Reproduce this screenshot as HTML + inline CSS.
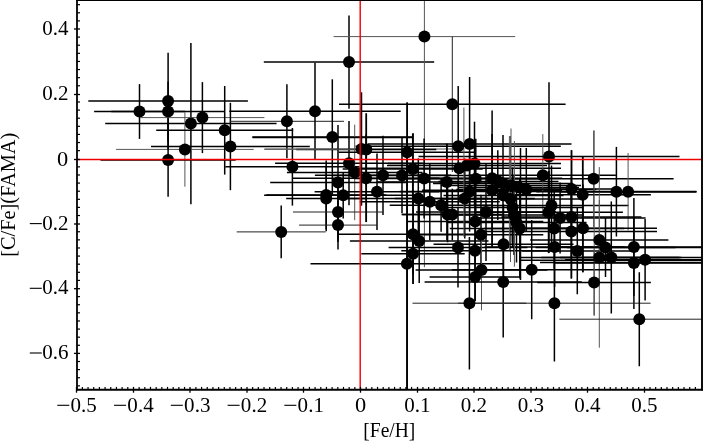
<!DOCTYPE html><html><head><meta charset="utf-8"><style>html,body{margin:0;padding:0;background:#fff;}svg{display:block;will-change:transform;}text{font-family:"Liberation Serif",serif;}</style></head><body>
<svg width="703" height="442" viewBox="0 0 703 442">
<rect width="703" height="442" fill="#fff"/>
<defs><clipPath id="ax"><rect x="77" y="0" width="625" height="389.5"/></clipPath></defs>
<g clip-path="url(#ax)">
<line x1="94.1" y1="111.5" x2="184.9" y2="111.5" stroke="#000" stroke-width="1.5"/>
<line x1="139.5" y1="84.1" x2="139.5" y2="138.9" stroke="#000" stroke-width="1.5"/>
<line x1="88.3" y1="100.9" x2="247.9" y2="100.9" stroke="#000" stroke-width="1.5"/>
<line x1="168.1" y1="52.8" x2="168.1" y2="149.0" stroke="#000" stroke-width="1.5"/>
<line x1="111.3" y1="111.5" x2="224.9" y2="111.5" stroke="#000" stroke-width="1.5"/>
<line x1="168.1" y1="81.5" x2="168.1" y2="141.5" stroke="#000" stroke-width="1.5"/>
<line x1="105.2" y1="123.6" x2="276.6" y2="123.6" stroke="#000" stroke-width="1.5"/>
<line x1="190.9" y1="43.0" x2="190.9" y2="204.2" stroke="#000" stroke-width="1.5"/>
<line x1="140.4" y1="117.6" x2="264.4" y2="117.6" stroke="#555" stroke-width="1.0"/>
<line x1="202.4" y1="82.1" x2="202.4" y2="153.1" stroke="#000" stroke-width="1.5"/>
<line x1="116.1" y1="149.4" x2="253.7" y2="149.4" stroke="#555" stroke-width="1.0"/>
<line x1="184.9" y1="112.1" x2="184.9" y2="186.7" stroke="#555" stroke-width="1.0"/>
<line x1="100.5" y1="159.9" x2="235.7" y2="159.9" stroke="#000" stroke-width="1.5"/>
<line x1="168.1" y1="123.1" x2="168.1" y2="196.7" stroke="#000" stroke-width="1.5"/>
<line x1="156.2" y1="130.3" x2="293.2" y2="130.3" stroke="#000" stroke-width="1.5"/>
<line x1="224.7" y1="86.0" x2="224.7" y2="174.6" stroke="#000" stroke-width="1.5"/>
<line x1="151.0" y1="146.5" x2="309.8" y2="146.5" stroke="#000" stroke-width="1.5"/>
<line x1="230.4" y1="102.8" x2="230.4" y2="190.2" stroke="#000" stroke-width="1.5"/>
<line x1="229.8" y1="121.3" x2="344.0" y2="121.3" stroke="#222" stroke-width="1.0"/>
<line x1="286.9" y1="84.3" x2="286.9" y2="158.3" stroke="#000" stroke-width="1.5"/>
<line x1="229.3" y1="111.2" x2="400.7" y2="111.2" stroke="#000" stroke-width="1.5"/>
<line x1="315.0" y1="62.8" x2="315.0" y2="159.6" stroke="#000" stroke-width="1.5"/>
<line x1="263.8" y1="62.1" x2="434.2" y2="62.1" stroke="#000" stroke-width="1.5"/>
<line x1="349.0" y1="15.4" x2="349.0" y2="108.8" stroke="#000" stroke-width="1.5"/>
<line x1="333.6" y1="36.6" x2="515.2" y2="36.6" stroke="#555" stroke-width="1.0"/>
<line x1="424.4" y1="-194.0" x2="424.4" y2="267.2" stroke="#555" stroke-width="1.0"/>
<line x1="225.3" y1="166.8" x2="359.5" y2="166.8" stroke="#000" stroke-width="1.5"/>
<line x1="292.4" y1="128.0" x2="292.4" y2="205.6" stroke="#000" stroke-width="1.5"/>
<line x1="236.7" y1="231.9" x2="325.7" y2="231.9" stroke="#222" stroke-width="1.0"/>
<line x1="281.2" y1="205.6" x2="281.2" y2="258.2" stroke="#000" stroke-width="1.5"/>
<line x1="252.3" y1="137.0" x2="412.3" y2="137.0" stroke="#000" stroke-width="1.5"/>
<line x1="332.3" y1="79.3" x2="332.3" y2="194.7" stroke="#000" stroke-width="1.5"/>
<line x1="339.0" y1="104.3" x2="565.6" y2="104.3" stroke="#000" stroke-width="1.5"/>
<line x1="452.3" y1="36.6" x2="452.3" y2="172.0" stroke="#222" stroke-width="1.0"/>
<line x1="264.5" y1="149.0" x2="458.5" y2="149.0" stroke="#555" stroke-width="1.0"/>
<line x1="361.5" y1="92.3" x2="361.5" y2="205.7" stroke="#000" stroke-width="1.5"/>
<line x1="296.3" y1="149.5" x2="436.3" y2="149.5" stroke="#000" stroke-width="1.5"/>
<line x1="366.3" y1="113.5" x2="366.3" y2="185.5" stroke="#000" stroke-width="1.5"/>
<line x1="275.1" y1="163.2" x2="422.9" y2="163.2" stroke="#000" stroke-width="1.5"/>
<line x1="349.0" y1="121.1" x2="349.0" y2="205.3" stroke="#000" stroke-width="1.5"/>
<line x1="286.9" y1="172.4" x2="422.5" y2="172.4" stroke="#000" stroke-width="1.5"/>
<line x1="354.7" y1="124.6" x2="354.7" y2="220.2" stroke="#555" stroke-width="1.0"/>
<line x1="292.8" y1="178.3" x2="439.4" y2="178.3" stroke="#000" stroke-width="1.5"/>
<line x1="366.1" y1="134.5" x2="366.1" y2="222.1" stroke="#000" stroke-width="1.5"/>
<line x1="314.9" y1="175.3" x2="451.1" y2="175.3" stroke="#000" stroke-width="1.5"/>
<line x1="383.0" y1="135.7" x2="383.0" y2="214.9" stroke="#000" stroke-width="1.5"/>
<line x1="332.0" y1="175.4" x2="472.0" y2="175.4" stroke="#000" stroke-width="1.5"/>
<line x1="402.0" y1="137.5" x2="402.0" y2="213.3" stroke="#000" stroke-width="1.5"/>
<line x1="338.7" y1="152.2" x2="475.5" y2="152.2" stroke="#000" stroke-width="1.5"/>
<line x1="407.1" y1="102.4" x2="407.1" y2="202.0" stroke="#000" stroke-width="1.5"/>
<line x1="342.7" y1="169.0" x2="482.7" y2="169.0" stroke="#000" stroke-width="1.5"/>
<line x1="412.7" y1="133.5" x2="412.7" y2="204.5" stroke="#000" stroke-width="1.5"/>
<line x1="354.1" y1="178.4" x2="494.1" y2="178.4" stroke="#000" stroke-width="1.5"/>
<line x1="424.1" y1="138.4" x2="424.1" y2="218.4" stroke="#000" stroke-width="1.5"/>
<line x1="376.8" y1="182.1" x2="516.8" y2="182.1" stroke="#000" stroke-width="1.5"/>
<line x1="446.8" y1="143.8" x2="446.8" y2="220.4" stroke="#000" stroke-width="1.5"/>
<line x1="270.2" y1="182.5" x2="405.8" y2="182.5" stroke="#000" stroke-width="1.5"/>
<line x1="338.0" y1="125.1" x2="338.0" y2="239.9" stroke="#000" stroke-width="1.5"/>
<line x1="266.2" y1="194.9" x2="386.2" y2="194.9" stroke="#000" stroke-width="1.5"/>
<line x1="326.2" y1="160.4" x2="326.2" y2="229.4" stroke="#000" stroke-width="1.5"/>
<line x1="286.2" y1="198.5" x2="366.2" y2="198.5" stroke="#000" stroke-width="1.5"/>
<line x1="326.2" y1="165.8" x2="326.2" y2="231.2" stroke="#000" stroke-width="1.5"/>
<line x1="264.1" y1="195.3" x2="422.3" y2="195.3" stroke="#000" stroke-width="1.5"/>
<line x1="343.2" y1="172.1" x2="343.2" y2="218.5" stroke="#000" stroke-width="1.5"/>
<line x1="314.6" y1="191.8" x2="439.4" y2="191.8" stroke="#000" stroke-width="1.5"/>
<line x1="377.0" y1="153.6" x2="377.0" y2="230.0" stroke="#000" stroke-width="1.5"/>
<line x1="293.0" y1="212.0" x2="383.0" y2="212.0" stroke="#222" stroke-width="1.0"/>
<line x1="338.0" y1="182.0" x2="338.0" y2="242.0" stroke="#000" stroke-width="1.5"/>
<line x1="299.1" y1="225.1" x2="376.9" y2="225.1" stroke="#222" stroke-width="1.0"/>
<line x1="338.0" y1="200.8" x2="338.0" y2="249.4" stroke="#000" stroke-width="1.5"/>
<line x1="348.3" y1="198.4" x2="488.3" y2="198.4" stroke="#000" stroke-width="1.5"/>
<line x1="418.3" y1="158.4" x2="418.3" y2="238.4" stroke="#000" stroke-width="1.5"/>
<line x1="359.8" y1="201.7" x2="499.8" y2="201.7" stroke="#000" stroke-width="1.5"/>
<line x1="429.8" y1="163.1" x2="429.8" y2="240.3" stroke="#000" stroke-width="1.5"/>
<line x1="389.7" y1="205.2" x2="492.5" y2="205.2" stroke="#000" stroke-width="1.5"/>
<line x1="441.1" y1="178.6" x2="441.1" y2="231.8" stroke="#000" stroke-width="1.5"/>
<line x1="401.6" y1="214.5" x2="493.6" y2="214.5" stroke="#000" stroke-width="1.5"/>
<line x1="447.6" y1="186.7" x2="447.6" y2="242.3" stroke="#000" stroke-width="1.5"/>
<line x1="402.3" y1="214.5" x2="502.3" y2="214.5" stroke="#000" stroke-width="1.5"/>
<line x1="452.3" y1="188.7" x2="452.3" y2="240.3" stroke="#000" stroke-width="1.5"/>
<line x1="355.6" y1="146.2" x2="560.8" y2="146.2" stroke="#000" stroke-width="1.5"/>
<line x1="458.2" y1="86.1" x2="458.2" y2="206.3" stroke="#000" stroke-width="1.5"/>
<line x1="367.7" y1="144.1" x2="571.5" y2="144.1" stroke="#000" stroke-width="1.5"/>
<line x1="469.6" y1="77.0" x2="469.6" y2="211.2" stroke="#000" stroke-width="1.5"/>
<line x1="357.6" y1="168.3" x2="561.0" y2="168.3" stroke="#000" stroke-width="1.5"/>
<line x1="387.0" y1="165.5" x2="547.0" y2="165.5" stroke="#000" stroke-width="1.5"/>
<line x1="388.0" y1="163.5" x2="561.0" y2="163.5" stroke="#000" stroke-width="1.5"/>
<line x1="474.5" y1="121.7" x2="474.5" y2="205.3" stroke="#000" stroke-width="1.5"/>
<line x1="405.8" y1="178.8" x2="545.8" y2="178.8" stroke="#000" stroke-width="1.5"/>
<line x1="475.8" y1="138.8" x2="475.8" y2="218.8" stroke="#000" stroke-width="1.5"/>
<line x1="422.1" y1="178.2" x2="562.1" y2="178.2" stroke="#000" stroke-width="1.5"/>
<line x1="492.1" y1="110.4" x2="492.1" y2="246.0" stroke="#000" stroke-width="1.5"/>
<line x1="422.1" y1="190.3" x2="562.1" y2="190.3" stroke="#000" stroke-width="1.5"/>
<line x1="492.1" y1="133.9" x2="492.1" y2="246.7" stroke="#000" stroke-width="1.5"/>
<line x1="433.0" y1="183.5" x2="573.0" y2="183.5" stroke="#000" stroke-width="1.5"/>
<line x1="503.0" y1="135.1" x2="503.0" y2="231.9" stroke="#000" stroke-width="1.5"/>
<line x1="438.5" y1="181.5" x2="558.5" y2="181.5" stroke="#000" stroke-width="1.5"/>
<line x1="441.0" y1="185.5" x2="581.0" y2="185.5" stroke="#000" stroke-width="1.5"/>
<line x1="511.0" y1="128.5" x2="511.0" y2="242.5" stroke="#555" stroke-width="1.0"/>
<line x1="459.0" y1="187.5" x2="579.0" y2="187.5" stroke="#000" stroke-width="1.5"/>
<line x1="456.3" y1="189.5" x2="596.3" y2="189.5" stroke="#000" stroke-width="1.5"/>
<line x1="526.3" y1="148.0" x2="526.3" y2="231.0" stroke="#000" stroke-width="1.5"/>
<line x1="469.7" y1="175.3" x2="615.9" y2="175.3" stroke="#000" stroke-width="1.5"/>
<line x1="542.8" y1="134.1" x2="542.8" y2="216.5" stroke="#555" stroke-width="1.0"/>
<line x1="418.5" y1="156.5" x2="679.5" y2="156.5" stroke="#000" stroke-width="1.5"/>
<line x1="549.0" y1="82.3" x2="549.0" y2="230.7" stroke="#000" stroke-width="1.5"/>
<line x1="440.5" y1="199.0" x2="580.5" y2="199.0" stroke="#000" stroke-width="1.5"/>
<line x1="510.5" y1="136.0" x2="510.5" y2="262.0" stroke="#555" stroke-width="1.0"/>
<line x1="443.5" y1="195.5" x2="563.5" y2="195.5" stroke="#000" stroke-width="1.5"/>
<line x1="442.5" y1="207.5" x2="582.5" y2="207.5" stroke="#000" stroke-width="1.5"/>
<line x1="512.5" y1="167.5" x2="512.5" y2="247.5" stroke="#000" stroke-width="1.5"/>
<line x1="444.0" y1="215.0" x2="584.0" y2="215.0" stroke="#000" stroke-width="1.5"/>
<line x1="514.0" y1="175.0" x2="514.0" y2="255.0" stroke="#000" stroke-width="1.5"/>
<line x1="416.0" y1="211.9" x2="556.0" y2="211.9" stroke="#000" stroke-width="1.5"/>
<line x1="486.0" y1="162.9" x2="486.0" y2="260.9" stroke="#000" stroke-width="1.5"/>
<line x1="394.8" y1="198.4" x2="534.8" y2="198.4" stroke="#000" stroke-width="1.5"/>
<line x1="464.8" y1="158.4" x2="464.8" y2="238.4" stroke="#000" stroke-width="1.5"/>
<line x1="399.6" y1="191.6" x2="539.6" y2="191.6" stroke="#000" stroke-width="1.5"/>
<line x1="469.6" y1="151.6" x2="469.6" y2="231.6" stroke="#000" stroke-width="1.5"/>
<line x1="407.1" y1="221.5" x2="543.3" y2="221.5" stroke="#000" stroke-width="1.5"/>
<line x1="475.2" y1="181.5" x2="475.2" y2="261.5" stroke="#000" stroke-width="1.5"/>
<line x1="446.5" y1="222.5" x2="586.5" y2="222.5" stroke="#000" stroke-width="1.5"/>
<line x1="516.5" y1="182.5" x2="516.5" y2="262.5" stroke="#000" stroke-width="1.5"/>
<line x1="449.8" y1="228.5" x2="589.8" y2="228.5" stroke="#000" stroke-width="1.5"/>
<line x1="519.8" y1="178.5" x2="519.8" y2="278.5" stroke="#000" stroke-width="1.5"/>
<line x1="474.5" y1="205.5" x2="628.5" y2="205.5" stroke="#000" stroke-width="1.5"/>
<line x1="551.5" y1="165.5" x2="551.5" y2="245.5" stroke="#000" stroke-width="1.5"/>
<line x1="474.1" y1="212.2" x2="622.9" y2="212.2" stroke="#000" stroke-width="1.5"/>
<line x1="548.5" y1="171.3" x2="548.5" y2="253.1" stroke="#000" stroke-width="1.5"/>
<line x1="513.6" y1="178.8" x2="673.6" y2="178.8" stroke="#000" stroke-width="1.5"/>
<line x1="593.6" y1="130.5" x2="593.6" y2="227.1" stroke="#555" stroke-width="1.0"/>
<line x1="528.0" y1="189.1" x2="615.0" y2="189.1" stroke="#000" stroke-width="1.5"/>
<line x1="571.5" y1="150.2" x2="571.5" y2="228.0" stroke="#000" stroke-width="1.5"/>
<line x1="514.5" y1="194.8" x2="650.9" y2="194.8" stroke="#000" stroke-width="1.5"/>
<line x1="582.7" y1="156.2" x2="582.7" y2="233.4" stroke="#000" stroke-width="1.5"/>
<line x1="536.4" y1="191.7" x2="696.4" y2="191.7" stroke="#000" stroke-width="1.5"/>
<line x1="616.4" y1="146.9" x2="616.4" y2="236.5" stroke="#000" stroke-width="1.5"/>
<line x1="559.8" y1="191.7" x2="696.4" y2="191.7" stroke="#000" stroke-width="1.5"/>
<line x1="628.1" y1="153.0" x2="628.1" y2="230.4" stroke="#555" stroke-width="1.0"/>
<line x1="474.6" y1="218.0" x2="645.6" y2="218.0" stroke="#000" stroke-width="1.5"/>
<line x1="560.1" y1="182.6" x2="560.1" y2="253.4" stroke="#000" stroke-width="1.5"/>
<line x1="501.4" y1="216.9" x2="641.4" y2="216.9" stroke="#000" stroke-width="1.5"/>
<line x1="571.4" y1="176.9" x2="571.4" y2="256.9" stroke="#000" stroke-width="1.5"/>
<line x1="484.2" y1="228.5" x2="624.2" y2="228.5" stroke="#000" stroke-width="1.5"/>
<line x1="554.2" y1="188.5" x2="554.2" y2="268.5" stroke="#000" stroke-width="1.5"/>
<line x1="485.6" y1="231.5" x2="657.0" y2="231.5" stroke="#000" stroke-width="1.5"/>
<line x1="571.3" y1="184.6" x2="571.3" y2="278.4" stroke="#000" stroke-width="1.5"/>
<line x1="509.0" y1="228.3" x2="657.0" y2="228.3" stroke="#000" stroke-width="1.5"/>
<line x1="583.0" y1="184.4" x2="583.0" y2="272.2" stroke="#000" stroke-width="1.5"/>
<line x1="530.2" y1="240.0" x2="668.4" y2="240.0" stroke="#000" stroke-width="1.5"/>
<line x1="599.3" y1="200.0" x2="599.3" y2="280.0" stroke="#555" stroke-width="1.0"/>
<line x1="535.5" y1="247.5" x2="675.5" y2="247.5" stroke="#000" stroke-width="1.5"/>
<line x1="605.5" y1="218.0" x2="605.5" y2="277.0" stroke="#000" stroke-width="1.5"/>
<line x1="484.6" y1="247.0" x2="624.6" y2="247.0" stroke="#000" stroke-width="1.5"/>
<line x1="554.6" y1="207.0" x2="554.6" y2="287.0" stroke="#000" stroke-width="1.5"/>
<line x1="522.1" y1="250.9" x2="632.5" y2="250.9" stroke="#000" stroke-width="1.5"/>
<line x1="577.3" y1="207.6" x2="577.3" y2="294.2" stroke="#000" stroke-width="1.5"/>
<line x1="553.9" y1="247.0" x2="713.9" y2="247.0" stroke="#000" stroke-width="1.5"/>
<line x1="633.9" y1="198.1" x2="633.9" y2="295.9" stroke="#000" stroke-width="1.5"/>
<line x1="565.1" y1="259.8" x2="725.1" y2="259.8" stroke="#000" stroke-width="1.5"/>
<line x1="645.1" y1="219.1" x2="645.1" y2="300.5" stroke="#000" stroke-width="1.5"/>
<line x1="519.3" y1="257.4" x2="679.3" y2="257.4" stroke="#000" stroke-width="1.5"/>
<line x1="599.3" y1="167.1" x2="599.3" y2="347.7" stroke="#555" stroke-width="1.0"/>
<line x1="541.3" y1="257.4" x2="681.3" y2="257.4" stroke="#000" stroke-width="1.5"/>
<line x1="611.3" y1="201.4" x2="611.3" y2="313.4" stroke="#000" stroke-width="1.5"/>
<line x1="553.9" y1="263.1" x2="713.9" y2="263.1" stroke="#000" stroke-width="1.5"/>
<line x1="633.9" y1="217.1" x2="633.9" y2="309.1" stroke="#000" stroke-width="1.5"/>
<line x1="338.5" y1="234.3" x2="487.5" y2="234.3" stroke="#000" stroke-width="1.5"/>
<line x1="413.0" y1="194.3" x2="413.0" y2="274.3" stroke="#000" stroke-width="1.5"/>
<line x1="349.9" y1="241.0" x2="488.5" y2="241.0" stroke="#000" stroke-width="1.5"/>
<line x1="419.2" y1="199.0" x2="419.2" y2="283.0" stroke="#000" stroke-width="1.5"/>
<line x1="361.3" y1="253.7" x2="464.7" y2="253.7" stroke="#000" stroke-width="1.5"/>
<line x1="413.0" y1="223.3" x2="413.0" y2="284.1" stroke="#000" stroke-width="1.5"/>
<line x1="310.5" y1="263.8" x2="503.3" y2="263.8" stroke="#000" stroke-width="1.5"/>
<line x1="406.9" y1="138.3" x2="406.9" y2="389.3" stroke="#000" stroke-width="1.5"/>
<line x1="418.7" y1="234.7" x2="543.3" y2="234.7" stroke="#000" stroke-width="1.5"/>
<line x1="481.0" y1="194.7" x2="481.0" y2="274.7" stroke="#000" stroke-width="1.5"/>
<line x1="388.6" y1="247.6" x2="527.4" y2="247.6" stroke="#000" stroke-width="1.5"/>
<line x1="458.0" y1="207.6" x2="458.0" y2="287.6" stroke="#000" stroke-width="1.5"/>
<line x1="401.3" y1="250.8" x2="548.7" y2="250.8" stroke="#000" stroke-width="1.5"/>
<line x1="475.0" y1="200.4" x2="475.0" y2="301.2" stroke="#000" stroke-width="1.5"/>
<line x1="433.5" y1="244.2" x2="573.5" y2="244.2" stroke="#000" stroke-width="1.5"/>
<line x1="503.5" y1="204.2" x2="503.5" y2="284.2" stroke="#000" stroke-width="1.5"/>
<line x1="415.6" y1="270.0" x2="547.4" y2="270.0" stroke="#000" stroke-width="1.5"/>
<line x1="481.5" y1="229.7" x2="481.5" y2="310.3" stroke="#555" stroke-width="1.0"/>
<line x1="429.6" y1="276.9" x2="520.6" y2="276.9" stroke="#000" stroke-width="1.5"/>
<line x1="475.1" y1="252.6" x2="475.1" y2="301.2" stroke="#000" stroke-width="1.5"/>
<line x1="424.6" y1="282.0" x2="581.8" y2="282.0" stroke="#000" stroke-width="1.5"/>
<line x1="503.2" y1="226.4" x2="503.2" y2="337.6" stroke="#000" stroke-width="1.5"/>
<line x1="451.9" y1="269.7" x2="611.5" y2="269.7" stroke="#000" stroke-width="1.5"/>
<line x1="531.7" y1="220.1" x2="531.7" y2="319.3" stroke="#000" stroke-width="1.5"/>
<line x1="412.5" y1="303.2" x2="526.3" y2="303.2" stroke="#222" stroke-width="1.0"/>
<line x1="469.4" y1="237.0" x2="469.4" y2="369.4" stroke="#000" stroke-width="1.5"/>
<line x1="458.2" y1="303.2" x2="650.6" y2="303.2" stroke="#222" stroke-width="1.0"/>
<line x1="554.4" y1="245.0" x2="554.4" y2="361.4" stroke="#000" stroke-width="1.5"/>
<line x1="537.3" y1="282.6" x2="650.9" y2="282.6" stroke="#000" stroke-width="1.5"/>
<line x1="594.1" y1="249.7" x2="594.1" y2="315.5" stroke="#222" stroke-width="1.0"/>
<line x1="559.4" y1="319.2" x2="719.2" y2="319.2" stroke="#222" stroke-width="1.0"/>
<line x1="639.3" y1="272.2" x2="639.3" y2="366.2" stroke="#000" stroke-width="1.5"/>
<line x1="594.2" y1="130.5" x2="594.2" y2="315.5" stroke="#555" stroke-width="1.0"/>
<line x1="463.9" y1="107.5" x2="463.9" y2="236.8" stroke="#555" stroke-width="1.0"/>
<line x1="497.8" y1="150.2" x2="497.8" y2="220.0" stroke="#000" stroke-width="1.5"/>
<line x1="509.4" y1="136.0" x2="509.4" y2="250.3" stroke="#555" stroke-width="1.0"/>
<line x1="514.4" y1="141.0" x2="514.4" y2="266.7" stroke="#555" stroke-width="1.0"/>
<line x1="520.5" y1="148.0" x2="520.5" y2="280.0" stroke="#000" stroke-width="1.5"/>
<line x1="549.0" y1="171.3" x2="549.0" y2="253.1" stroke="#000" stroke-width="1.5"/>
<line x1="571.5" y1="150.2" x2="571.5" y2="278.4" stroke="#000" stroke-width="1.5"/>
<line x1="582.7" y1="156.2" x2="582.7" y2="272.2" stroke="#000" stroke-width="1.5"/>
<line x1="446.9" y1="143.8" x2="446.9" y2="240.3" stroke="#000" stroke-width="1.5"/>
<line x1="413.1" y1="133.3" x2="413.1" y2="284.1" stroke="#000" stroke-width="1.5"/>
<line x1="366.3" y1="113.3" x2="366.3" y2="222.1" stroke="#000" stroke-width="1.5"/>
<line x1="407.2" y1="102.4" x2="407.2" y2="389.5" stroke="#000" stroke-width="1.5"/>
<line x1="566.8" y1="247.4" x2="702.0" y2="247.4" stroke="#000" stroke-width="1.5"/>
<line x1="560.0" y1="257.4" x2="702.0" y2="257.4" stroke="#000" stroke-width="1.5"/>
<line x1="520.0" y1="260.2" x2="702.0" y2="260.2" stroke="#000" stroke-width="1.5"/>
<line x1="540.0" y1="262.6" x2="702.0" y2="262.6" stroke="#000" stroke-width="1.5"/>
<line x1="550.0" y1="191.6" x2="696.4" y2="191.6" stroke="#000" stroke-width="1.5"/>
<line x1="252.5" y1="137.4" x2="412.5" y2="137.4" stroke="#000" stroke-width="1.5"/>
<line x1="264.3" y1="149.3" x2="362.0" y2="149.3" stroke="#555" stroke-width="1.0"/>
<circle cx="139.5" cy="111.5" r="6"/>
<circle cx="168.1" cy="100.9" r="6"/>
<circle cx="168.1" cy="111.5" r="6"/>
<circle cx="190.9" cy="123.6" r="6"/>
<circle cx="202.4" cy="117.6" r="6"/>
<circle cx="184.9" cy="149.4" r="6"/>
<circle cx="168.1" cy="159.9" r="6"/>
<circle cx="224.7" cy="130.3" r="6"/>
<circle cx="230.4" cy="146.5" r="6"/>
<circle cx="286.9" cy="121.3" r="6"/>
<circle cx="315.0" cy="111.2" r="6"/>
<circle cx="349.0" cy="62.1" r="6"/>
<circle cx="424.4" cy="36.6" r="6"/>
<circle cx="292.4" cy="166.8" r="6"/>
<circle cx="281.2" cy="231.9" r="6"/>
<circle cx="332.3" cy="137.0" r="6"/>
<circle cx="452.3" cy="104.3" r="6"/>
<circle cx="361.5" cy="149.0" r="6"/>
<circle cx="366.3" cy="149.5" r="6"/>
<circle cx="349.0" cy="163.2" r="6"/>
<circle cx="354.7" cy="172.4" r="6"/>
<circle cx="366.1" cy="178.3" r="6"/>
<circle cx="383.0" cy="175.3" r="6"/>
<circle cx="402.0" cy="175.4" r="6"/>
<circle cx="407.1" cy="152.2" r="6"/>
<circle cx="412.7" cy="169.0" r="6"/>
<circle cx="424.1" cy="178.4" r="6"/>
<circle cx="446.8" cy="182.1" r="6"/>
<circle cx="338.0" cy="182.5" r="6"/>
<circle cx="326.2" cy="194.9" r="6"/>
<circle cx="326.2" cy="198.5" r="6"/>
<circle cx="343.2" cy="195.3" r="6"/>
<circle cx="377.0" cy="191.8" r="6"/>
<circle cx="338.0" cy="212.0" r="6"/>
<circle cx="338.0" cy="225.1" r="6"/>
<circle cx="418.3" cy="198.4" r="6"/>
<circle cx="429.8" cy="201.7" r="6"/>
<circle cx="441.1" cy="205.2" r="6"/>
<circle cx="447.6" cy="214.5" r="6"/>
<circle cx="452.3" cy="214.5" r="6"/>
<circle cx="458.2" cy="146.2" r="6"/>
<circle cx="469.6" cy="144.1" r="6"/>
<circle cx="459.3" cy="168.3" r="6"/>
<circle cx="467.0" cy="165.5" r="6"/>
<circle cx="474.5" cy="163.5" r="6"/>
<circle cx="475.8" cy="178.8" r="6"/>
<circle cx="492.1" cy="178.2" r="6"/>
<circle cx="492.1" cy="190.3" r="6"/>
<circle cx="503.0" cy="183.5" r="6"/>
<circle cx="498.5" cy="181.5" r="6"/>
<circle cx="511.0" cy="185.5" r="6"/>
<circle cx="519.0" cy="187.5" r="6"/>
<circle cx="526.3" cy="189.5" r="6"/>
<circle cx="542.8" cy="175.3" r="6"/>
<circle cx="549.0" cy="156.5" r="6"/>
<circle cx="510.5" cy="199.0" r="6"/>
<circle cx="503.5" cy="195.5" r="6"/>
<circle cx="512.5" cy="207.5" r="6"/>
<circle cx="514.0" cy="215.0" r="6"/>
<circle cx="486.0" cy="211.9" r="6"/>
<circle cx="464.8" cy="198.4" r="6"/>
<circle cx="469.6" cy="191.6" r="6"/>
<circle cx="475.2" cy="221.5" r="6"/>
<circle cx="516.5" cy="222.5" r="6"/>
<circle cx="519.8" cy="228.5" r="6"/>
<circle cx="551.5" cy="205.5" r="6"/>
<circle cx="548.5" cy="212.2" r="6"/>
<circle cx="593.6" cy="178.8" r="6"/>
<circle cx="571.5" cy="189.1" r="6"/>
<circle cx="582.7" cy="194.8" r="6"/>
<circle cx="616.4" cy="191.7" r="6"/>
<circle cx="628.1" cy="191.7" r="6"/>
<circle cx="560.1" cy="218.0" r="6"/>
<circle cx="571.4" cy="216.9" r="6"/>
<circle cx="554.2" cy="228.5" r="6"/>
<circle cx="571.3" cy="231.5" r="6"/>
<circle cx="583.0" cy="228.3" r="6"/>
<circle cx="599.3" cy="240.0" r="6"/>
<circle cx="605.5" cy="247.5" r="6"/>
<circle cx="554.6" cy="247.0" r="6"/>
<circle cx="577.3" cy="250.9" r="6"/>
<circle cx="633.9" cy="247.0" r="6"/>
<circle cx="645.1" cy="259.8" r="6"/>
<circle cx="599.3" cy="257.4" r="6"/>
<circle cx="611.3" cy="257.4" r="6"/>
<circle cx="633.9" cy="263.1" r="6"/>
<circle cx="413.0" cy="234.3" r="6"/>
<circle cx="419.2" cy="241.0" r="6"/>
<circle cx="413.0" cy="253.7" r="6"/>
<circle cx="406.9" cy="263.8" r="6"/>
<circle cx="481.0" cy="234.7" r="6"/>
<circle cx="458.0" cy="247.6" r="6"/>
<circle cx="475.0" cy="250.8" r="6"/>
<circle cx="503.5" cy="244.2" r="6"/>
<circle cx="481.5" cy="270.0" r="6"/>
<circle cx="475.1" cy="276.9" r="6"/>
<circle cx="503.2" cy="282.0" r="6"/>
<circle cx="531.7" cy="269.7" r="6"/>
<circle cx="469.4" cy="303.2" r="6"/>
<circle cx="554.4" cy="303.2" r="6"/>
<circle cx="594.1" cy="282.6" r="6"/>
<circle cx="639.3" cy="319.2" r="6"/>
<line x1="77" y1="159.5" x2="702" y2="159.5" stroke="#e00" stroke-width="1.4"/>
<line x1="360.2" y1="0" x2="360.2" y2="390" stroke="#e00" stroke-width="1.4"/>
</g>
<line x1="77.0" y1="-1" x2="77.0" y2="390.6" stroke="#000" stroke-width="1.8"/>
<line x1="76.1" y1="389.75" x2="704" y2="389.75" stroke="#000" stroke-width="1.8"/>
<line x1="76.1" y1="0.2" x2="704" y2="0.2" stroke="#000" stroke-width="1.6"/>
<line x1="702.0" y1="-1" x2="702.0" y2="390.6" stroke="#000" stroke-width="1.9"/>
<line x1="76.5" y1="386.9" x2="76.5" y2="392.7" stroke="#000" stroke-width="1.3"/>
<line x1="133.5" y1="386.9" x2="133.5" y2="392.7" stroke="#000" stroke-width="1.3"/>
<line x1="190.0" y1="386.9" x2="190.0" y2="392.7" stroke="#000" stroke-width="1.3"/>
<line x1="247.0" y1="386.9" x2="247.0" y2="392.7" stroke="#000" stroke-width="1.3"/>
<line x1="303.5" y1="386.9" x2="303.5" y2="392.7" stroke="#000" stroke-width="1.3"/>
<line x1="360.5" y1="386.9" x2="360.5" y2="392.7" stroke="#000" stroke-width="1.3"/>
<line x1="417.5" y1="386.9" x2="417.5" y2="392.7" stroke="#000" stroke-width="1.3"/>
<line x1="474.0" y1="386.9" x2="474.0" y2="392.7" stroke="#000" stroke-width="1.3"/>
<line x1="531.0" y1="386.9" x2="531.0" y2="392.7" stroke="#000" stroke-width="1.3"/>
<line x1="587.5" y1="386.9" x2="587.5" y2="392.7" stroke="#000" stroke-width="1.3"/>
<line x1="644.5" y1="386.9" x2="644.5" y2="392.7" stroke="#000" stroke-width="1.3"/>
<line x1="82.38" y1="386.9" x2="82.38" y2="389.5" stroke="#000" stroke-width="1.2"/>
<line x1="88.05" y1="386.9" x2="88.05" y2="389.5" stroke="#000" stroke-width="1.2"/>
<line x1="93.73" y1="386.9" x2="93.73" y2="389.5" stroke="#000" stroke-width="1.2"/>
<line x1="99.40" y1="386.9" x2="99.40" y2="389.5" stroke="#000" stroke-width="1.2"/>
<line x1="105.08" y1="386.9" x2="105.08" y2="389.5" stroke="#000" stroke-width="1.2"/>
<line x1="110.76" y1="386.9" x2="110.76" y2="389.5" stroke="#000" stroke-width="1.2"/>
<line x1="116.43" y1="386.9" x2="116.43" y2="389.5" stroke="#000" stroke-width="1.2"/>
<line x1="122.11" y1="386.9" x2="122.11" y2="389.5" stroke="#000" stroke-width="1.2"/>
<line x1="127.78" y1="386.9" x2="127.78" y2="389.5" stroke="#000" stroke-width="1.2"/>
<line x1="139.14" y1="386.9" x2="139.14" y2="389.5" stroke="#000" stroke-width="1.2"/>
<line x1="144.81" y1="386.9" x2="144.81" y2="389.5" stroke="#000" stroke-width="1.2"/>
<line x1="150.49" y1="386.9" x2="150.49" y2="389.5" stroke="#000" stroke-width="1.2"/>
<line x1="156.16" y1="386.9" x2="156.16" y2="389.5" stroke="#000" stroke-width="1.2"/>
<line x1="161.84" y1="386.9" x2="161.84" y2="389.5" stroke="#000" stroke-width="1.2"/>
<line x1="167.52" y1="386.9" x2="167.52" y2="389.5" stroke="#000" stroke-width="1.2"/>
<line x1="173.19" y1="386.9" x2="173.19" y2="389.5" stroke="#000" stroke-width="1.2"/>
<line x1="178.87" y1="386.9" x2="178.87" y2="389.5" stroke="#000" stroke-width="1.2"/>
<line x1="184.54" y1="386.9" x2="184.54" y2="389.5" stroke="#000" stroke-width="1.2"/>
<line x1="195.90" y1="386.9" x2="195.90" y2="389.5" stroke="#000" stroke-width="1.2"/>
<line x1="201.57" y1="386.9" x2="201.57" y2="389.5" stroke="#000" stroke-width="1.2"/>
<line x1="207.25" y1="386.9" x2="207.25" y2="389.5" stroke="#000" stroke-width="1.2"/>
<line x1="212.92" y1="386.9" x2="212.92" y2="389.5" stroke="#000" stroke-width="1.2"/>
<line x1="218.60" y1="386.9" x2="218.60" y2="389.5" stroke="#000" stroke-width="1.2"/>
<line x1="224.28" y1="386.9" x2="224.28" y2="389.5" stroke="#000" stroke-width="1.2"/>
<line x1="229.95" y1="386.9" x2="229.95" y2="389.5" stroke="#000" stroke-width="1.2"/>
<line x1="235.63" y1="386.9" x2="235.63" y2="389.5" stroke="#000" stroke-width="1.2"/>
<line x1="241.30" y1="386.9" x2="241.30" y2="389.5" stroke="#000" stroke-width="1.2"/>
<line x1="252.66" y1="386.9" x2="252.66" y2="389.5" stroke="#000" stroke-width="1.2"/>
<line x1="258.33" y1="386.9" x2="258.33" y2="389.5" stroke="#000" stroke-width="1.2"/>
<line x1="264.01" y1="386.9" x2="264.01" y2="389.5" stroke="#000" stroke-width="1.2"/>
<line x1="269.68" y1="386.9" x2="269.68" y2="389.5" stroke="#000" stroke-width="1.2"/>
<line x1="275.36" y1="386.9" x2="275.36" y2="389.5" stroke="#000" stroke-width="1.2"/>
<line x1="281.04" y1="386.9" x2="281.04" y2="389.5" stroke="#000" stroke-width="1.2"/>
<line x1="286.71" y1="386.9" x2="286.71" y2="389.5" stroke="#000" stroke-width="1.2"/>
<line x1="292.39" y1="386.9" x2="292.39" y2="389.5" stroke="#000" stroke-width="1.2"/>
<line x1="298.06" y1="386.9" x2="298.06" y2="389.5" stroke="#000" stroke-width="1.2"/>
<line x1="309.42" y1="386.9" x2="309.42" y2="389.5" stroke="#000" stroke-width="1.2"/>
<line x1="315.09" y1="386.9" x2="315.09" y2="389.5" stroke="#000" stroke-width="1.2"/>
<line x1="320.77" y1="386.9" x2="320.77" y2="389.5" stroke="#000" stroke-width="1.2"/>
<line x1="326.44" y1="386.9" x2="326.44" y2="389.5" stroke="#000" stroke-width="1.2"/>
<line x1="332.12" y1="386.9" x2="332.12" y2="389.5" stroke="#000" stroke-width="1.2"/>
<line x1="337.80" y1="386.9" x2="337.80" y2="389.5" stroke="#000" stroke-width="1.2"/>
<line x1="343.47" y1="386.9" x2="343.47" y2="389.5" stroke="#000" stroke-width="1.2"/>
<line x1="349.15" y1="386.9" x2="349.15" y2="389.5" stroke="#000" stroke-width="1.2"/>
<line x1="354.82" y1="386.9" x2="354.82" y2="389.5" stroke="#000" stroke-width="1.2"/>
<line x1="366.18" y1="386.9" x2="366.18" y2="389.5" stroke="#000" stroke-width="1.2"/>
<line x1="371.85" y1="386.9" x2="371.85" y2="389.5" stroke="#000" stroke-width="1.2"/>
<line x1="377.53" y1="386.9" x2="377.53" y2="389.5" stroke="#000" stroke-width="1.2"/>
<line x1="383.20" y1="386.9" x2="383.20" y2="389.5" stroke="#000" stroke-width="1.2"/>
<line x1="388.88" y1="386.9" x2="388.88" y2="389.5" stroke="#000" stroke-width="1.2"/>
<line x1="394.56" y1="386.9" x2="394.56" y2="389.5" stroke="#000" stroke-width="1.2"/>
<line x1="400.23" y1="386.9" x2="400.23" y2="389.5" stroke="#000" stroke-width="1.2"/>
<line x1="405.91" y1="386.9" x2="405.91" y2="389.5" stroke="#000" stroke-width="1.2"/>
<line x1="411.58" y1="386.9" x2="411.58" y2="389.5" stroke="#000" stroke-width="1.2"/>
<line x1="422.94" y1="386.9" x2="422.94" y2="389.5" stroke="#000" stroke-width="1.2"/>
<line x1="428.61" y1="386.9" x2="428.61" y2="389.5" stroke="#000" stroke-width="1.2"/>
<line x1="434.29" y1="386.9" x2="434.29" y2="389.5" stroke="#000" stroke-width="1.2"/>
<line x1="439.96" y1="386.9" x2="439.96" y2="389.5" stroke="#000" stroke-width="1.2"/>
<line x1="445.64" y1="386.9" x2="445.64" y2="389.5" stroke="#000" stroke-width="1.2"/>
<line x1="451.32" y1="386.9" x2="451.32" y2="389.5" stroke="#000" stroke-width="1.2"/>
<line x1="456.99" y1="386.9" x2="456.99" y2="389.5" stroke="#000" stroke-width="1.2"/>
<line x1="462.67" y1="386.9" x2="462.67" y2="389.5" stroke="#000" stroke-width="1.2"/>
<line x1="468.34" y1="386.9" x2="468.34" y2="389.5" stroke="#000" stroke-width="1.2"/>
<line x1="479.70" y1="386.9" x2="479.70" y2="389.5" stroke="#000" stroke-width="1.2"/>
<line x1="485.37" y1="386.9" x2="485.37" y2="389.5" stroke="#000" stroke-width="1.2"/>
<line x1="491.05" y1="386.9" x2="491.05" y2="389.5" stroke="#000" stroke-width="1.2"/>
<line x1="496.72" y1="386.9" x2="496.72" y2="389.5" stroke="#000" stroke-width="1.2"/>
<line x1="502.40" y1="386.9" x2="502.40" y2="389.5" stroke="#000" stroke-width="1.2"/>
<line x1="508.08" y1="386.9" x2="508.08" y2="389.5" stroke="#000" stroke-width="1.2"/>
<line x1="513.75" y1="386.9" x2="513.75" y2="389.5" stroke="#000" stroke-width="1.2"/>
<line x1="519.43" y1="386.9" x2="519.43" y2="389.5" stroke="#000" stroke-width="1.2"/>
<line x1="525.10" y1="386.9" x2="525.10" y2="389.5" stroke="#000" stroke-width="1.2"/>
<line x1="536.46" y1="386.9" x2="536.46" y2="389.5" stroke="#000" stroke-width="1.2"/>
<line x1="542.13" y1="386.9" x2="542.13" y2="389.5" stroke="#000" stroke-width="1.2"/>
<line x1="547.81" y1="386.9" x2="547.81" y2="389.5" stroke="#000" stroke-width="1.2"/>
<line x1="553.48" y1="386.9" x2="553.48" y2="389.5" stroke="#000" stroke-width="1.2"/>
<line x1="559.16" y1="386.9" x2="559.16" y2="389.5" stroke="#000" stroke-width="1.2"/>
<line x1="564.84" y1="386.9" x2="564.84" y2="389.5" stroke="#000" stroke-width="1.2"/>
<line x1="570.51" y1="386.9" x2="570.51" y2="389.5" stroke="#000" stroke-width="1.2"/>
<line x1="576.19" y1="386.9" x2="576.19" y2="389.5" stroke="#000" stroke-width="1.2"/>
<line x1="581.86" y1="386.9" x2="581.86" y2="389.5" stroke="#000" stroke-width="1.2"/>
<line x1="593.22" y1="386.9" x2="593.22" y2="389.5" stroke="#000" stroke-width="1.2"/>
<line x1="598.89" y1="386.9" x2="598.89" y2="389.5" stroke="#000" stroke-width="1.2"/>
<line x1="604.57" y1="386.9" x2="604.57" y2="389.5" stroke="#000" stroke-width="1.2"/>
<line x1="610.24" y1="386.9" x2="610.24" y2="389.5" stroke="#000" stroke-width="1.2"/>
<line x1="615.92" y1="386.9" x2="615.92" y2="389.5" stroke="#000" stroke-width="1.2"/>
<line x1="621.60" y1="386.9" x2="621.60" y2="389.5" stroke="#000" stroke-width="1.2"/>
<line x1="627.27" y1="386.9" x2="627.27" y2="389.5" stroke="#000" stroke-width="1.2"/>
<line x1="632.95" y1="386.9" x2="632.95" y2="389.5" stroke="#000" stroke-width="1.2"/>
<line x1="638.62" y1="386.9" x2="638.62" y2="389.5" stroke="#000" stroke-width="1.2"/>
<line x1="649.98" y1="386.9" x2="649.98" y2="389.5" stroke="#000" stroke-width="1.2"/>
<line x1="655.65" y1="386.9" x2="655.65" y2="389.5" stroke="#000" stroke-width="1.2"/>
<line x1="661.33" y1="386.9" x2="661.33" y2="389.5" stroke="#000" stroke-width="1.2"/>
<line x1="667.00" y1="386.9" x2="667.00" y2="389.5" stroke="#000" stroke-width="1.2"/>
<line x1="672.68" y1="386.9" x2="672.68" y2="389.5" stroke="#000" stroke-width="1.2"/>
<line x1="678.36" y1="386.9" x2="678.36" y2="389.5" stroke="#000" stroke-width="1.2"/>
<line x1="684.03" y1="386.9" x2="684.03" y2="389.5" stroke="#000" stroke-width="1.2"/>
<line x1="689.71" y1="386.9" x2="689.71" y2="389.5" stroke="#000" stroke-width="1.2"/>
<line x1="695.38" y1="386.9" x2="695.38" y2="389.5" stroke="#000" stroke-width="1.2"/>
<line x1="74" y1="29.0" x2="80" y2="29.0" stroke="#000" stroke-width="1.3"/>
<line x1="74" y1="94.5" x2="80" y2="94.5" stroke="#000" stroke-width="1.3"/>
<line x1="74" y1="159.5" x2="80" y2="159.5" stroke="#000" stroke-width="1.3"/>
<line x1="74" y1="224.0" x2="80" y2="224.0" stroke="#000" stroke-width="1.3"/>
<line x1="74" y1="288.7" x2="80" y2="288.7" stroke="#000" stroke-width="1.3"/>
<line x1="74" y1="353.4" x2="80" y2="353.4" stroke="#000" stroke-width="1.3"/>
<line x1="77" y1="4.67" x2="80" y2="4.67" stroke="#000" stroke-width="1.2"/>
<line x1="77" y1="12.78" x2="80" y2="12.78" stroke="#000" stroke-width="1.2"/>
<line x1="77" y1="20.89" x2="80" y2="20.89" stroke="#000" stroke-width="1.2"/>
<line x1="77" y1="37.11" x2="80" y2="37.11" stroke="#000" stroke-width="1.2"/>
<line x1="77" y1="45.22" x2="80" y2="45.22" stroke="#000" stroke-width="1.2"/>
<line x1="77" y1="53.33" x2="80" y2="53.33" stroke="#000" stroke-width="1.2"/>
<line x1="77" y1="61.44" x2="80" y2="61.44" stroke="#000" stroke-width="1.2"/>
<line x1="77" y1="69.55" x2="80" y2="69.55" stroke="#000" stroke-width="1.2"/>
<line x1="77" y1="77.66" x2="80" y2="77.66" stroke="#000" stroke-width="1.2"/>
<line x1="77" y1="85.77" x2="80" y2="85.77" stroke="#000" stroke-width="1.2"/>
<line x1="77" y1="101.99" x2="80" y2="101.99" stroke="#000" stroke-width="1.2"/>
<line x1="77" y1="110.10" x2="80" y2="110.10" stroke="#000" stroke-width="1.2"/>
<line x1="77" y1="118.21" x2="80" y2="118.21" stroke="#000" stroke-width="1.2"/>
<line x1="77" y1="126.32" x2="80" y2="126.32" stroke="#000" stroke-width="1.2"/>
<line x1="77" y1="134.43" x2="80" y2="134.43" stroke="#000" stroke-width="1.2"/>
<line x1="77" y1="142.54" x2="80" y2="142.54" stroke="#000" stroke-width="1.2"/>
<line x1="77" y1="150.65" x2="80" y2="150.65" stroke="#000" stroke-width="1.2"/>
<line x1="77" y1="166.87" x2="80" y2="166.87" stroke="#000" stroke-width="1.2"/>
<line x1="77" y1="174.98" x2="80" y2="174.98" stroke="#000" stroke-width="1.2"/>
<line x1="77" y1="183.09" x2="80" y2="183.09" stroke="#000" stroke-width="1.2"/>
<line x1="77" y1="191.20" x2="80" y2="191.20" stroke="#000" stroke-width="1.2"/>
<line x1="77" y1="199.31" x2="80" y2="199.31" stroke="#000" stroke-width="1.2"/>
<line x1="77" y1="207.42" x2="80" y2="207.42" stroke="#000" stroke-width="1.2"/>
<line x1="77" y1="215.53" x2="80" y2="215.53" stroke="#000" stroke-width="1.2"/>
<line x1="77" y1="231.75" x2="80" y2="231.75" stroke="#000" stroke-width="1.2"/>
<line x1="77" y1="239.86" x2="80" y2="239.86" stroke="#000" stroke-width="1.2"/>
<line x1="77" y1="247.97" x2="80" y2="247.97" stroke="#000" stroke-width="1.2"/>
<line x1="77" y1="256.08" x2="80" y2="256.08" stroke="#000" stroke-width="1.2"/>
<line x1="77" y1="264.19" x2="80" y2="264.19" stroke="#000" stroke-width="1.2"/>
<line x1="77" y1="272.30" x2="80" y2="272.30" stroke="#000" stroke-width="1.2"/>
<line x1="77" y1="280.41" x2="80" y2="280.41" stroke="#000" stroke-width="1.2"/>
<line x1="77" y1="296.63" x2="80" y2="296.63" stroke="#000" stroke-width="1.2"/>
<line x1="77" y1="304.74" x2="80" y2="304.74" stroke="#000" stroke-width="1.2"/>
<line x1="77" y1="312.85" x2="80" y2="312.85" stroke="#000" stroke-width="1.2"/>
<line x1="77" y1="320.96" x2="80" y2="320.96" stroke="#000" stroke-width="1.2"/>
<line x1="77" y1="329.07" x2="80" y2="329.07" stroke="#000" stroke-width="1.2"/>
<line x1="77" y1="337.18" x2="80" y2="337.18" stroke="#000" stroke-width="1.2"/>
<line x1="77" y1="345.29" x2="80" y2="345.29" stroke="#000" stroke-width="1.2"/>
<line x1="77" y1="361.51" x2="80" y2="361.51" stroke="#000" stroke-width="1.2"/>
<line x1="77" y1="369.62" x2="80" y2="369.62" stroke="#000" stroke-width="1.2"/>
<line x1="77" y1="377.73" x2="80" y2="377.73" stroke="#000" stroke-width="1.2"/>
<line x1="77" y1="385.84" x2="80" y2="385.84" stroke="#000" stroke-width="1.2"/>
<line x1="57.30" y1="405.3" x2="69.30" y2="405.3" stroke="#000" stroke-width="1.1"/>
<text x="70.60" y="412" font-size="20" textLength="26.3" lengthAdjust="spacingAndGlyphs">0.5</text>
<line x1="114.06" y1="405.3" x2="126.06" y2="405.3" stroke="#000" stroke-width="1.1"/>
<text x="127.36" y="412" font-size="20" textLength="26.3" lengthAdjust="spacingAndGlyphs">0.4</text>
<line x1="170.82" y1="405.3" x2="182.82" y2="405.3" stroke="#000" stroke-width="1.1"/>
<text x="184.12" y="412" font-size="20" textLength="26.3" lengthAdjust="spacingAndGlyphs">0.3</text>
<line x1="227.58" y1="405.3" x2="239.58" y2="405.3" stroke="#000" stroke-width="1.1"/>
<text x="240.88" y="412" font-size="20" textLength="26.3" lengthAdjust="spacingAndGlyphs">0.2</text>
<line x1="284.34" y1="405.3" x2="296.34" y2="405.3" stroke="#000" stroke-width="1.1"/>
<text x="297.64" y="412" font-size="20" textLength="26.3" lengthAdjust="spacingAndGlyphs">0.1</text>
<text x="360.5" y="412" font-size="20" text-anchor="middle" textLength="11.2" lengthAdjust="spacingAndGlyphs">0</text>
<text x="417.3" y="412" font-size="20" text-anchor="middle" textLength="26.3" lengthAdjust="spacingAndGlyphs">0.1</text>
<text x="474.0" y="412" font-size="20" text-anchor="middle" textLength="26.3" lengthAdjust="spacingAndGlyphs">0.2</text>
<text x="530.8" y="412" font-size="20" text-anchor="middle" textLength="26.3" lengthAdjust="spacingAndGlyphs">0.3</text>
<text x="587.5" y="412" font-size="20" text-anchor="middle" textLength="26.3" lengthAdjust="spacingAndGlyphs">0.4</text>
<text x="644.3" y="412" font-size="20" text-anchor="middle" textLength="26.3" lengthAdjust="spacingAndGlyphs">0.5</text>
<text x="68.6" y="34.6" font-size="20" text-anchor="end" textLength="26.3" lengthAdjust="spacingAndGlyphs">0.4</text>
<text x="68.6" y="100.1" font-size="20" text-anchor="end" textLength="26.3" lengthAdjust="spacingAndGlyphs">0.2</text>
<text x="68.3" y="165.5" font-size="20" text-anchor="end" textLength="11.2" lengthAdjust="spacingAndGlyphs">0</text>
<text x="68.6" y="229.6" font-size="20" text-anchor="end" textLength="26.3" lengthAdjust="spacingAndGlyphs">0.2</text>
<line x1="29.8" y1="223.60" x2="41.8" y2="223.60" stroke="#000" stroke-width="1.1"/>
<text x="68.6" y="294.3" font-size="20" text-anchor="end" textLength="26.3" lengthAdjust="spacingAndGlyphs">0.4</text>
<line x1="29.8" y1="288.30" x2="41.8" y2="288.30" stroke="#000" stroke-width="1.1"/>
<text x="68.6" y="359.0" font-size="20" text-anchor="end" textLength="26.3" lengthAdjust="spacingAndGlyphs">0.6</text>
<line x1="29.8" y1="353.00" x2="41.8" y2="353.00" stroke="#000" stroke-width="1.1"/>
<text x="389.3" y="437" font-size="20" text-anchor="middle" textLength="52" lengthAdjust="spacingAndGlyphs">[Fe/H]</text>
<text transform="translate(14.6,194.8) rotate(-90)" font-size="20" text-anchor="middle" textLength="124" lengthAdjust="spacingAndGlyphs">[C/Fe](FAMA)</text>
</svg></body></html>
